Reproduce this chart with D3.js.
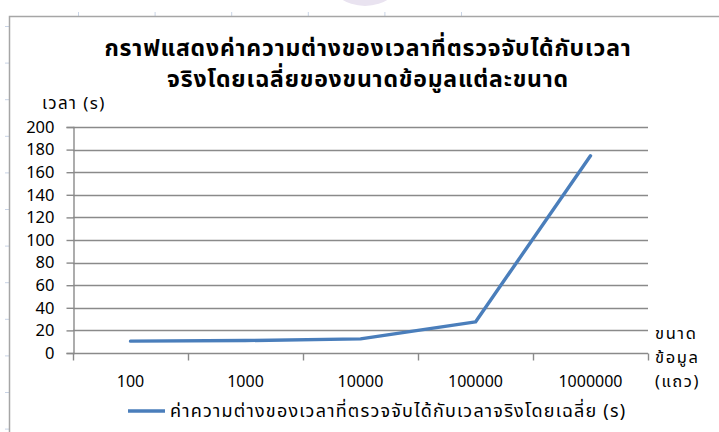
<!DOCTYPE html>
<html>
<head>
<meta charset="utf-8">
<script src="https://cdn.jsdelivr.net/npm/d3@7"></script>
<style>
  html, body { margin: 0; padding: 0; background: #fff; }
  svg { display: block; }
  text { font-family: Tahoma, "Noto Sans Thai", "Noto Sans", "DejaVu Sans", sans-serif; fill: #000; }
</style>
</head>
<body>
<svg id="chart" width="719" height="432"></svg>
<script>
// Data sizes (rows) and the mean difference between measured and real time (s)
const categories = ["100", "1000", "10000", "100000", "1000000"];
const diffSeconds = [10.5, 11, 12.5, 27.5, 174.5];
const yTicks = [0, 20, 40, 60, 80, 100, 120, 140, 160, 180, 200];

const titleLines = ["กราฟแสดงค่าความต่างของเวลาที่ตรวจจับได้กับเวลา", "จริงโดยเฉลี่ยของขนาดข้อมูลแต่ละขนาด"];
const yAxisTitle = "เวลา (s)";
const xAxisTitle = ["ขนาด", "ข้อมูล", "(แถว)"];
const seriesName = "ค่าความต่างของเวลาที่ตรวจจับได้กับเวลาจริงโดยเฉลี่ย (s)";

const svg = d3.select("#chart");
const plot = { left: 73, right: 648, top: 127, bottom: 353 };
const lineColor = "#4a7ebb";
const gridColor = "#8a8a8a";
const numFont = "Tahoma, 'DejaVu Sans', sans-serif";

// Sheet background: faint column/row marks and a soft shape peeking above the frame
svg.append("ellipse")
  .attr("cx", 365).attr("cy", -22).attr("rx", 36).attr("ry", 28)
  .attr("fill", "#e9e3f0");
svg.append("g").selectAll("line")
  .data(d3.range(6))
  .join("line")
  .attr("x1", i => 78.5 + i * 76.6).attr("x2", i => 78.5 + i * 76.6)
  .attr("y1", 12).attr("y2", 16)
  .attr("stroke", "#c9d4e6").attr("stroke-width", 1);
svg.append("g").selectAll("line")
  .data(d3.range(12))
  .join("line")
  .attr("x1", 5).attr("x2", 9)
  .attr("y1", i => 26.5 + i * 36.6).attr("y2", i => 26.5 + i * 36.6)
  .attr("stroke", "#c9d4e6").attr("stroke-width", 1);

// Chart frame
svg.append("rect")
  .attr("x", 9.5).attr("y", 16.5)
  .attr("width", 760).attr("height", 460)
  .attr("fill", "#fff").attr("stroke", "#a6a6a6").attr("stroke-width", 1.5);

const x = d3.scaleBand().domain(categories).range([plot.left, plot.right]);
const y = d3.scaleLinear().domain([0, 200]).range([plot.bottom, plot.top]);

// Horizontal gridlines
svg.append("g")
  .selectAll("line")
  .data(yTicks.filter(t => t > 0))
  .join("line")
  .attr("x1", plot.left).attr("x2", plot.right)
  .attr("y1", d => Math.round(y(d)) + 0.5).attr("y2", d => Math.round(y(d)) + 0.5)
  .attr("stroke", gridColor).attr("stroke-width", 1.4);

// Y axis
const yAxis = svg.append("g")
  .attr("transform", `translate(${plot.left + 0.5},0)`)
  .call(d3.axisLeft(y).tickValues(yTicks).tickSize(7).tickPadding(12));
yAxis.select(".domain").attr("stroke", gridColor).attr("stroke-width", 1.4);
yAxis.selectAll(".tick line").attr("stroke", gridColor).attr("stroke-width", 1.4);
yAxis.selectAll(".tick text").attr("font-size", 16.5).attr("fill", "#000")
  .attr("font-family", numFont);

// X axis with tick marks between categories
const xAxis = svg.append("g")
  .attr("transform", `translate(0,${Math.round(plot.bottom) + 0.5})`);
xAxis.append("line")
  .attr("x1", plot.left).attr("x2", plot.right)
  .attr("stroke", gridColor).attr("stroke-width", 1.4);
const boundaries = categories.map(c => x(c)).concat([x(categories[categories.length - 1]) + x.bandwidth()]);
xAxis.selectAll("line.tk")
  .data(boundaries)
  .join("line").attr("class", "tk")
  .attr("x1", d => Math.round(d) + 0.5).attr("x2", d => Math.round(d) + 0.5)
  .attr("y1", 0).attr("y2", 7)
  .attr("stroke", gridColor).attr("stroke-width", 1.4);
xAxis.selectAll("text")
  .data(categories)
  .join("text")
  .attr("x", d => x(d) + x.bandwidth() / 2)
  .attr("y", 33)
  .attr("text-anchor", "middle")
  .attr("font-size", 16)
  .attr("font-family", numFont)
  .text(d => d);

// Data line
const line = d3.line()
  .x((d, i) => x(categories[i]) + x.bandwidth() / 2)
  .y(d => y(d));
svg.append("path")
  .datum(diffSeconds)
  .attr("d", line)
  .attr("fill", "none")
  .attr("stroke", lineColor)
  .attr("stroke-width", 3.4)
  .attr("stroke-linejoin", "round")
  .attr("stroke-linecap", "round");

// Title
svg.append("g").selectAll("text")
  .data(titleLines)
  .join("text")
  .attr("x", 368)
  .attr("y", (d, i) => 56 + i * 31)
  .attr("text-anchor", "middle")
  .attr("font-size", 23)
  .attr("letter-spacing", 0.8)
  .attr("font-weight", "bold")
  .text(d => d);

// Axis titles
svg.append("text")
  .attr("x", 42).attr("y", 109)
  .attr("font-size", 17)
  .attr("letter-spacing", 1.4)
  .text(yAxisTitle);

svg.append("g").selectAll("text")
  .data(xAxisTitle)
  .join("text")
  .attr("x", 655)
  .attr("y", (d, i) => 339 + i * 24)
  .attr("font-size", 16.5)
  .attr("letter-spacing", 1.6)
  .text(d => d);

// Legend
const legend = svg.append("g").attr("transform", "translate(128,411)");
legend.append("line")
  .attr("x1", 0).attr("x2", 37)
  .attr("stroke", lineColor).attr("stroke-width", 3.4);
legend.append("text")
  .attr("x", 42).attr("y", 6)
  .attr("font-size", 18)
  .attr("letter-spacing", 1.2)
  .text(seriesName);
</script>
</body>
</html>
